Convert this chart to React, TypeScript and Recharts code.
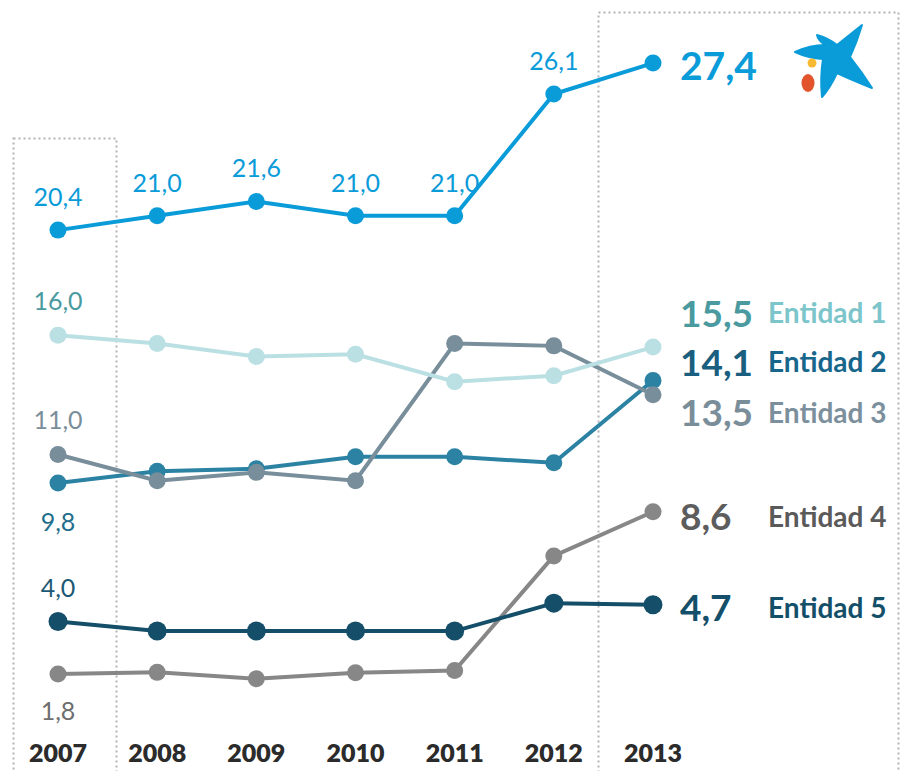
import React from 'react';
import { LineChart, Line, XAxis, YAxis, LabelList } from 'recharts';

const years = ['2007', '2008', '2009', '2010', '2011', '2012', '2013'];
const caixa = [20.4, 21.0, 21.6, 21.0, 21.0, 26.1, 27.4];
const entidad1 = [16.0, 15.65, 15.1, 15.2, 14.05, 14.3, 15.5];
const entidad2 = [9.8, 10.3, 10.4, 10.9, 10.9, 10.65, 14.1];
const entidad3 = [11.0, 9.9, 10.25, 9.9, 15.65, 15.55, 13.5];
const entidad4 = [1.8, 1.87, 1.6, 1.85, 1.95, 6.75, 8.6];
const entidad5 = [4.0, 3.6, 3.6, 3.6, 3.6, 4.77, 4.7];

const data = years.map((y, i) => ({
  year: y,
  caixa: caixa[i],
  e1: entidad1[i],
  e2: entidad2[i],
  e3: entidad3[i],
  e4: entidad4[i],
  e5: entidad5[i],
}));

const FONT = "Lato, 'Open Sans', sans-serif";
const fmt = (v: number) => v.toFixed(1).replace('.', ',');

type SeriesCfg = {
  key: string;
  name: string;
  line: string;
  r: number;
  width: number;
  smallColor: string;
  smallIdx: number[];
  smallDy: number;
  bigColor: string;
  bigSize: number;
  bigDy: number;
  nameColor: string;
};

const series: SeriesCfg[] = [
  { key: 'e4', name: 'Entidad 4', line: '#878787', r: 8.5, width: 4, smallColor: '#6e6e6e', smallIdx: [0], smallDy: 36, bigColor: '#5d5d5d', bigSize: 37, bigDy: 4, nameColor: '#5a5a5a' },
  { key: 'e5', name: 'Entidad 5', line: '#144e68', r: 9.5, width: 4, smallColor: '#1c5873', smallIdx: [0], smallDy: -35, bigColor: '#134f6a', bigSize: 37, bigDy: 2, nameColor: '#144f69' },
  { key: 'e2', name: 'Entidad 2', line: '#2b82a3', r: 8.5, width: 4, smallColor: '#1f6e8c', smallIdx: [0], smallDy: 38, bigColor: '#1a5f80', bigSize: 37, bigDy: -19, nameColor: '#17668c' },
  { key: 'e3', name: 'Entidad 3', line: '#788e9b', r: 8.5, width: 4, smallColor: '#7a8e9a', smallIdx: [0], smallDy: -35, bigColor: '#7a8e9a', bigSize: 37, bigDy: 17, nameColor: '#7b909c' },
  { key: 'e1', name: 'Entidad 1', line: '#bbe0e4', r: 8.5, width: 4, smallColor: '#4a9aa0', smallIdx: [0], smallDy: -35, bigColor: '#4a9aa0', bigSize: 37, bigDy: -35, nameColor: '#7cc5cb' },
  { key: 'caixa', name: '', line: '#0a9bd9', r: 8.5, width: 4, smallColor: '#0a9bd9', smallIdx: [0, 1, 2, 3, 4, 5], smallDy: -34, bigColor: '#0a9bd9', bigSize: 39, bigDy: 2, nameColor: '#0a9bd9' },
];

const makeLabel = (s: SeriesCfg) => (props: any) => {
  const { x, y, value, index } = props;
  if (index === years.length - 1) {
    return (
      <g>
        <text x={x + 27} y={y + s.bigDy} fill={s.bigColor} fontSize={s.bigSize} fontWeight={700} fontFamily={FONT} dominantBaseline="central">
          {fmt(value)}
        </text>
        {s.name ? (
          <text x={x + 115} y={y + s.bigDy} fill={s.nameColor} fontSize={28} fontWeight={700} fontFamily={FONT} dominantBaseline="central">
            {s.name}
          </text>
        ) : null}
      </g>
    );
  }
  if (s.smallIdx.includes(index)) {
    return (
      <text x={x} y={y + s.smallDy} fill={s.smallColor} fontSize={25} fontFamily={FONT} textAnchor="middle" dominantBaseline="central">
        {fmt(value)}
      </text>
    );
  }
  return null;
};

const YearTick = (props: any) => {
  const { x, y, payload } = props;
  return (
    <text x={x} y={y} dy={27} fill="#2b2b2b" fontSize={25} fontWeight={800} fontFamily={FONT} textAnchor="middle" dominantBaseline="central">
      {payload.value}
    </text>
  );
};

const Decor = () => (
  <svg width={901} height={771} style={{ position: 'absolute', left: 0, top: 0 }}>
    <rect x={13.5} y={138.5} width={103} height={700} fill="none" stroke="#b3b3b3" strokeWidth={2} strokeDasharray="2 3" />
    <rect x={598.5} y={12.5} width={300} height={800} fill="none" stroke="#b3b3b3" strokeWidth={2} strokeDasharray="2 3" />
    <path
      d="M795,52 Q810,45 825,45 Q818,40 817,35 Q828,38 837,45 L862,25 Q857,42 850,57 Q862,72 872,88 Q852,80 837,73 Q830,88 822,97 Q820,78 823,59 Q808,58 795,52 Z"
      fill="#0a9bd9"
      stroke="#0a9bd9"
      strokeWidth={2}
      strokeLinejoin="round"
    />
    <circle cx={812} cy={63} r={4.5} fill="#f7b932" />
    <ellipse cx={808} cy={83} rx={6.5} ry={9} fill="#e2542c" />
  </svg>
);

export default function App() {
  return (
    <div style={{ position: 'absolute', left: 0, top: 0, width: 901, height: 771 }}>
      <Decor />
      <div style={{ position: 'absolute', left: 0, top: 0 }}>
        <LineChart width={901} height={771} data={data} margin={{ top: 1, right: 248, left: 58, bottom: 0 }}>
          <XAxis dataKey="year" scale="point" padding={{ left: 0, right: 0 }} axisLine={false} tickLine={false} height={54} tick={<YearTick />} interval={0} />
          <YAxis hide domain={[0, 30]} />
          {series.map((s) => (
            <Line
              key={s.key}
              dataKey={s.key}
              stroke={s.line}
              strokeWidth={s.width}
              dot={{ r: s.r, fill: s.line, stroke: 'none' }}
              activeDot={false}
              isAnimationActive={false}
            >
              <LabelList dataKey={s.key} content={makeLabel(s)} />
            </Line>
          ))}
        </LineChart>
      </div>
    </div>
  );
}
